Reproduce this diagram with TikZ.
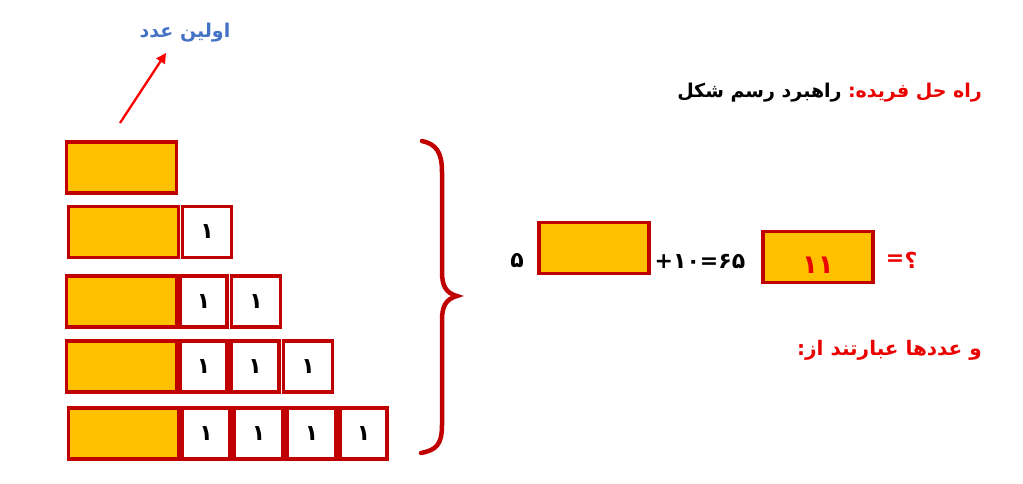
\documentclass[tikz,border=0pt]{standalone}
\usepackage{fontspec}
\newfontfamily\arabicfont[Script=Arabic]{DejaVu Sans}
\TeXXeTstate=1
\usetikzlibrary{arrows.meta}
\definecolor{dred}{RGB}{192,0,0}
\definecolor{orng}{RGB}{255,192,0}
\definecolor{rtext}{RGB}{235,0,0}
\definecolor{btext}{RGB}{68,114,196}
\tikzset{
  obox/.style={draw=dred, fill=orng, line width=3.5pt, inner sep=0pt, minimum width=110pt, minimum height=51pt},
  wbox/.style={draw=dred, fill=white, line width=3.5pt, inner sep=0pt, minimum width=#1, minimum height=51pt, font=\arabicfont\bfseries\fontsize{22}{26}\selectfont},
  wbox/.default=49pt,
  ar/.style={font=\arabicfont\bfseries\fontsize{19}{22}\selectfont, inner sep=0pt},
  big/.style={font=\arabicfont\bfseries\fontsize{22}{26}\selectfont, inner sep=0pt},
}
\begin{document}
\begin{tikzpicture}[x=1pt,y=-1pt]
\useasboundingbox (0,0) rectangle (1023,483);
% row 1
\node[obox] (o1) at (121.5,167.5) {};
% row 2
\node[obox] (o2) at (123.5,232) {};
\node[wbox] (w21) at (207,232) {۱};
% row 3
\node[obox] (o3) at (121.5,301.5) {};
\node[wbox=47pt] (w31) at (203.5,301.5) {۱};
\node[wbox] (w32) at (256,301.5) {۱};
% row 4
\node[obox] (o4) at (121.5,366.5) {};
\node[wbox=47pt] (w41) at (203.5,366.5) {۱};
\node[wbox=48pt] (w42) at (255,366.5) {۱};
\node[wbox] (w43) at (308,366.5) {۱};
% row 5
\node[obox] (o5) at (123.5,433.5) {};
\node[wbox=48pt] (w51) at (206,433.5) {۱};
\node[wbox] (w52) at (258.5,433.5) {۱};
\node[wbox] (w53) at (311.5,433.5) {۱};
\node[wbox=47pt] (w54) at (363.5,433.5) {۱};
% label and arrow
\node[ar, text=btext] (first) at (185,33) {\beginR اولین عدد\endR};
\coordinate (arstart) at (120,123);
\coordinate (arend) at (166,53);
\draw[red, line width=2.3pt, -{Triangle[length=10pt,width=10pt]}] (arstart) -- (arend);
% brace
\draw[dred, line width=4.5pt, line cap=round]
  (422,141) .. controls (436,144) and (442,152) .. (442,172) -- (442,272)
  .. controls (442,286) and (446,293) .. (457,296)
  .. controls (446,299) and (442,306) .. (442,320) -- (442,425)
  .. controls (442,445) and (436,450) .. (421,453);
% right side
\node[ar, anchor=east, text=rtext] (title1) at (982,93) {\beginR راه حل فریده:\endR};
\node[ar, anchor=east] (title2) at ([xshift=-6pt]title1.east -| title1.west) {\beginR راهبرد رسم شکل\endR};
\node[big] (five) at (517,261) {۵};
\node[obox] (eb1) at (594,248) {};
\node[big] (eq) at (700,261) {۶۵=۱۰+};
\node[obox] (eb2) at (818,257) {};
\node[big, text=rtext] (ans) at (818,265) {\fontsize{26}{30}\selectfont ۱۱};
\node[big, text=rtext] (qeq) at (895,260) {=};
\node[big, text=rtext, anchor=west] (qm) at (qeq.east) {؟};
\node[ar, anchor=east, text=rtext] (nums) at (982,350) {\fontsize{20}{24}\selectfont\beginR و عددها عبارتند از:\endR};
\end{tikzpicture}
\end{document}
